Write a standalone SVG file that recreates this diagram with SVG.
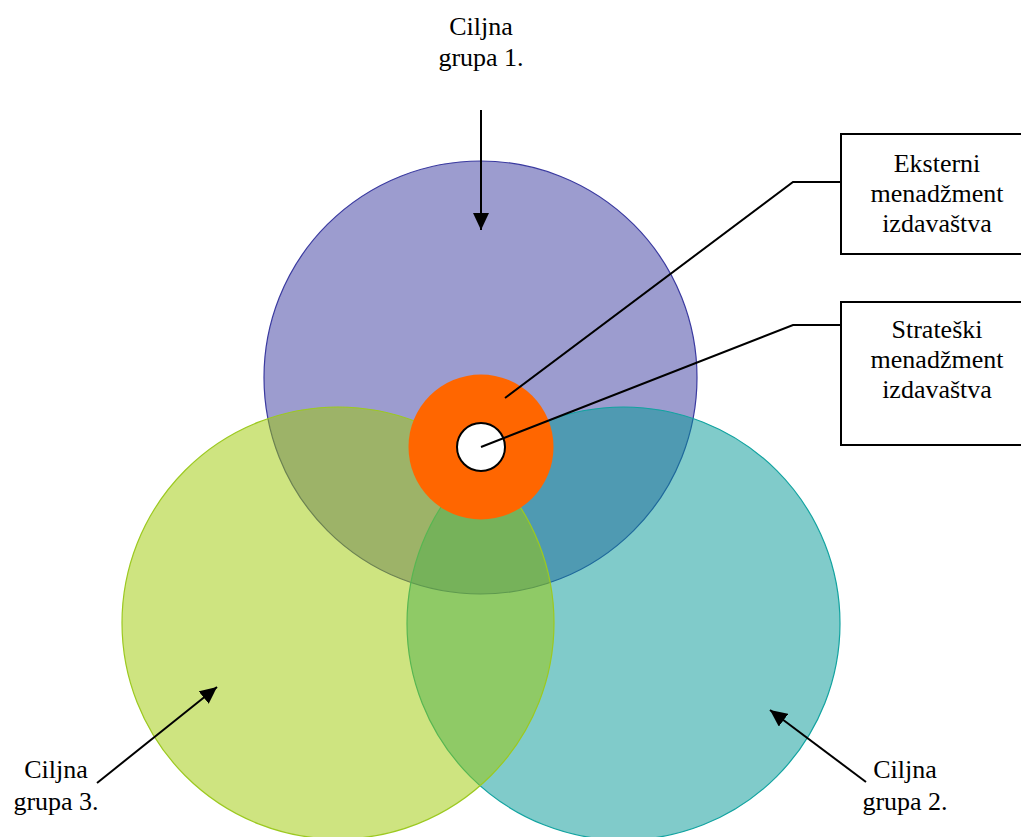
<svg xmlns="http://www.w3.org/2000/svg" width="1021" height="837" viewBox="0 0 1021 837">
<style>
.lbl{font-size:26px;fill:#000;text-anchor:middle}
.conn{stroke:#000;stroke-width:2;fill:none}
.box{fill:#fff;stroke:#000;stroke-width:2}
.set{fill-opacity:0.5;stroke-width:1.2}
</style>
<defs>
<marker id="arr" markerUnits="userSpaceOnUse" markerWidth="18" markerHeight="16" refX="17" refY="8" orient="auto">
<path d="M0,0 L17,8 L0,16 Z" fill="#000"/>
</marker>
</defs>
<rect width="1021" height="837" fill="#fff"/>
<g id="grupa1-circle"><circle class="set" cx="480.5" cy="377.5" r="216.5" fill="#39399f" stroke="#3a3aa0"/></g>
<g id="grupa2-circle"><circle class="set" cx="623.5" cy="623.5" r="216.5" fill="#019795" stroke="#12a3a0"/></g>
<g id="grupa3-circle"><circle class="set" cx="338" cy="623" r="216" fill="#9dc901" stroke="#9cc920"/></g>
<g id="eksterni-ring"><circle cx="481" cy="447" r="72.5" fill="#ff6600"/></g>
<g id="strateski-core"><circle cx="481" cy="447" r="24" fill="#fff" stroke="#000" stroke-width="2"/></g>
<g font-family="'Liberation Serif', 'DejaVu Serif', serif">
<g id="eksterni-box"><rect class="box" x="841" y="134" width="194" height="120"/>
<text class="lbl" x="937" y="172">Eksterni</text>
<text class="lbl" x="937" y="202">menadžment</text>
<text class="lbl" x="937" y="232">izdavaštva</text></g>
<g id="strateski-box"><rect class="box" x="841" y="302" width="194" height="143"/>
<text class="lbl" x="937" y="338">Strateški</text>
<text class="lbl" x="937" y="368">menadžment</text>
<text class="lbl" x="937" y="398">izdavaštva</text></g>
<g id="label-grupa1"><text class="lbl" x="481" y="35">Ciljna</text><text class="lbl" x="481" y="66">grupa 1.</text></g>
<g id="label-grupa3"><text class="lbl" x="56" y="778">Ciljna</text><text class="lbl" x="56" y="810">grupa 3.</text></g>
<g id="label-grupa2"><text class="lbl" x="905" y="778">Ciljna</text><text class="lbl" x="905" y="810">grupa 2.</text></g>
</g>
<g id="connectors">
<line class="conn" x1="481" y1="110" x2="481" y2="230" marker-end="url(#arr)"/>
<line class="conn" x1="97" y1="783" x2="217" y2="687" marker-end="url(#arr)"/>
<line class="conn" x1="866" y1="782" x2="770" y2="710" marker-end="url(#arr)"/>
<polyline class="conn" points="505,398 793,182 841,182"/>
<polyline class="conn" points="481,447 793,325 841,325"/>
</g>
</svg>
